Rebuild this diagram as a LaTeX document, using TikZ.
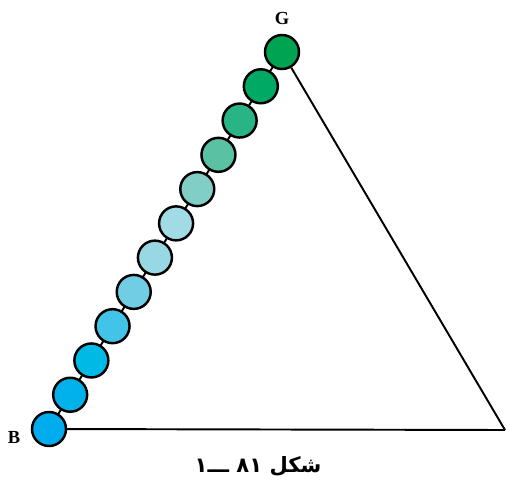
\documentclass[tikz,border=0pt]{standalone}
\usepackage{fontspec}
\newfontfamily\arabicfont[Script=Arabic]{DejaVu Sans}
\newfontfamily\labelfont{Liberation Serif}
\TeXXeTstate=1
\usetikzlibrary{calc}
\definecolor{bead1}{RGB}{0,172,238}
\definecolor{bead2}{RGB}{0,177,234}
\definecolor{bead3}{RGB}{0,186,230}
\definecolor{bead4}{RGB}{66,196,233}
\definecolor{bead5}{RGB}{112,205,228}
\definecolor{bead6}{RGB}{152,215,228}
\definecolor{bead7}{RGB}{160,219,230}
\definecolor{bead8}{RGB}{128,206,198}
\definecolor{bead9}{RGB}{90,193,162}
\definecolor{bead10}{RGB}{40,180,132}
\definecolor{bead11}{RGB}{0,169,100}
\definecolor{bead12}{RGB}{0,163,80}
\tikzset{
  bead/.style={
    shape = circle,
    draw,
    line width = 1.4pt,
    minimum size = 0.68cm,
    inner sep = 0pt
  },
  edge/.style={
    line width = 1.1pt
  },
  vertex/.style={
    font=\labelfont\bfseries\fontsize{10.5}{10.5}\selectfont
  }
}
\begin{document}
\begin{tikzpicture}[x=0.02cm,y=-0.02cm]
            \useasboundingbox (0,0) rectangle (506,482);
            \coordinate (r) at (505,430);
            \coordinate (b) at (49,429);
            \coordinate (g) at (282,52);
            \draw[edge] (b)--(g);
            \node[bead,fill=bead1] (c1) at (b) {};
            \node[bead,fill=bead2] (c2) at ($(b)!1/11!(g)$) {};
            \node[bead,fill=bead3] (c3) at ($(b)!2/11!(g)$) {};
            \node[bead,fill=bead4] (c4) at ($(b)!3/11!(g)$) {};
            \node[bead,fill=bead5] (c5) at ($(b)!4/11!(g)$) {};
            \node[bead,fill=bead6] (c6) at ($(b)!5/11!(g)$) {};
            \node[bead,fill=bead7] (c7) at ($(b)!6/11!(g)$) {};
            \node[bead,fill=bead8] (c8) at ($(b)!7/11!(g)$) {};
            \node[bead,fill=bead9] (c9) at ($(b)!8/11!(g)$) {};
            \node[bead,fill=bead10] (c10) at ($(b)!9/11!(g)$) {};
            \node[bead,fill=bead11] (c11) at ($(b)!10/11!(g)$) {};
            \node[bead,fill=bead12] (c12) at (g) {};
            \draw[edge] (c1)--(r);
            \draw[edge] (c12)--(r);
            \node[vertex] (lg) at (282,18) {G};
            \node[vertex] (lb) at (14,437) {B};
            \node (cap) at (258,466) {\arabicfont\bfseries\fontsize{12}{12}\selectfont\beginR شکل ۸۱ ـــ۱\endR};
        \end{tikzpicture}
\end{document}
